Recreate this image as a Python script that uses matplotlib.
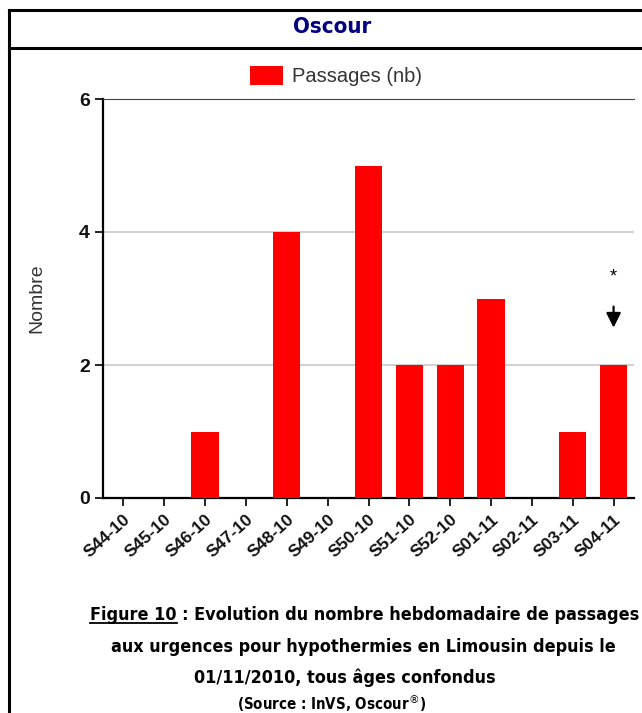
import os
import matplotlib.pyplot as plt
from matplotlib import font_manager
from matplotlib.font_manager import FontProperties
from matplotlib.lines import Line2D

weeks = ['S44-10', 'S45-10', 'S46-10', 'S47-10', 'S48-10', 'S49-10', 'S50-10',
         'S51-10', 'S52-10', 'S01-11', 'S02-11', 'S03-11', 'S04-11']
passages = [0, 0, 1, 0, 4, 0, 5, 2, 2, 3, 0, 1, 2]
yticks = [0, 2, 4, 6]
caption = ['Figure 10 : Evolution du nombre hebdomadaire de passages',
           'aux urgences pour hypothermies en Limousin depuis le',
           '01/11/2010, tous âges confondus']
source = '(Source : InVS, Oscour$^{®}$)'

plt.rcParams['font.family'] = ['Liberation Sans', 'DejaVu Sans']

# look for a condensed bold face, fall back to Liberation Sans bold
cond_path = None
wanted = ['LiberationSansNarrow-Bold.ttf', 'DejaVuSansCondensed-Bold.ttf']
files = {os.path.basename(f.fname): f.fname for f in font_manager.fontManager.ttflist}
for w in wanted:
    if w in files:
        cond_path = files[w]
        break


def cond_font(size):
    if cond_path:
        return FontProperties(fname=cond_path, size=size)
    return FontProperties(family='Liberation Sans', weight='bold', size=size)


fig = plt.figure(figsize=(6.42, 7.13), dpi=100)
ax = fig.add_axes([103 / 642, 1 - 498 / 713, 531 / 642, 399 / 713])

x = list(range(len(weeks)))
ax.bar(x, passages, width=0.67, color='#ff0000', label='Passages (nb)', zorder=3)

ax.set_xlim(-0.5, len(weeks) - 0.5)
ax.set_ylim(0, 6)
ax.set_yticks(yticks)
ax.set_yticklabels([str(v) for v in yticks], fontsize=14, fontweight='bold', color='#111111')
ax.set_xticks(x)
ax.set_xticklabels(weeks, rotation=42, ha='right', rotation_mode='anchor',
                   fontsize=12.5, fontweight='bold', color='#111111')
ax.tick_params(axis='both', length=6, width=1.4, color='#222222')
ax.tick_params(axis='x', pad=4)
ax.yaxis.grid(True, color='#c8c8c8', linewidth=1.2, zorder=0)
ax.set_axisbelow(True)
ax.spines['right'].set_visible(False)
ax.spines['top'].set_color('#444444')
ax.spines['left'].set_linewidth(1.6)
ax.spines['bottom'].set_linewidth(1.6)
ax.set_ylabel('Nombre', fontsize=14, color='#333333', labelpad=24)

# annotation on last week
ax.text(12, 3.32, '*', ha='center', va='center', fontsize=13)
ax.annotate('', xy=(12, 2.52), xytext=(12, 2.92),
            arrowprops=dict(arrowstyle='-|>', color='black', lw=1.6, mutation_scale=22))

ax.legend(loc='center', bbox_to_anchor=(336 / 642, 1 - 76 / 713), bbox_transform=fig.transFigure,
          frameon=False, handlelength=1.6, handleheight=1.1, fontsize=14.5,
          labelcolor='#333333', handletextpad=0.45)

# frame
for xs, ys in [([9, 9], [10, 713]), ([9, 642], [10, 10]), ([9, 642], [48, 48])]:
    fig.add_artist(Line2D([v / 642 for v in xs], [1 - v / 713 for v in ys],
                          color='black', linewidth=2.2, transform=fig.transFigure))

fig.canvas.draw()
r = fig.canvas.get_renderer()

# title, sized to the reference width
t = fig.text(332 / 642, 1 - 27 / 713, 'Oscour', ha='center', va='center', color='#000080',
             fontproperties=cond_font(10))
w10 = t.get_window_extent(r).width
t.set_fontproperties(cond_font(10 * 78 / w10))

# caption lines: common size fitted on the first line
centers = [365, 363, 345]
ys = [615, 647, 678]
probe = fig.text(0, 0, caption[0], fontproperties=cond_font(10))
size = 10 * 546 / probe.get_window_extent(r).width
probe.remove()
lines = [fig.text(cx / 642, 1 - y / 713, s, ha='center', va='center',
                  fontproperties=cond_font(size)) for s, cx, y in zip(caption, centers, ys)]

src = fig.text(332 / 642, 1 - 703 / 713, source, ha='center', va='center',
               fontproperties=cond_font(10))
fig.canvas.draw()
sw = src.get_window_extent(r).width
src.set_fontproperties(cond_font(10 * 190 / sw))

# underline "Figure 10"
fig.canvas.draw()
bb = lines[0].get_window_extent(r)
part = fig.text(0, 0, 'Figure 10', fontproperties=cond_font(size))
pw = part.get_window_extent(r).width
part.remove()
x0 = bb.x0 / fig.bbox.width
x1 = (bb.x0 + pw) / fig.bbox.width
yu = (bb.y0 + 1) / fig.bbox.height
fig.add_artist(Line2D([x0, x1], [yu, yu], color='black', linewidth=1.3, transform=fig.transFigure))

fig.savefig('out.png', dpi=100)
